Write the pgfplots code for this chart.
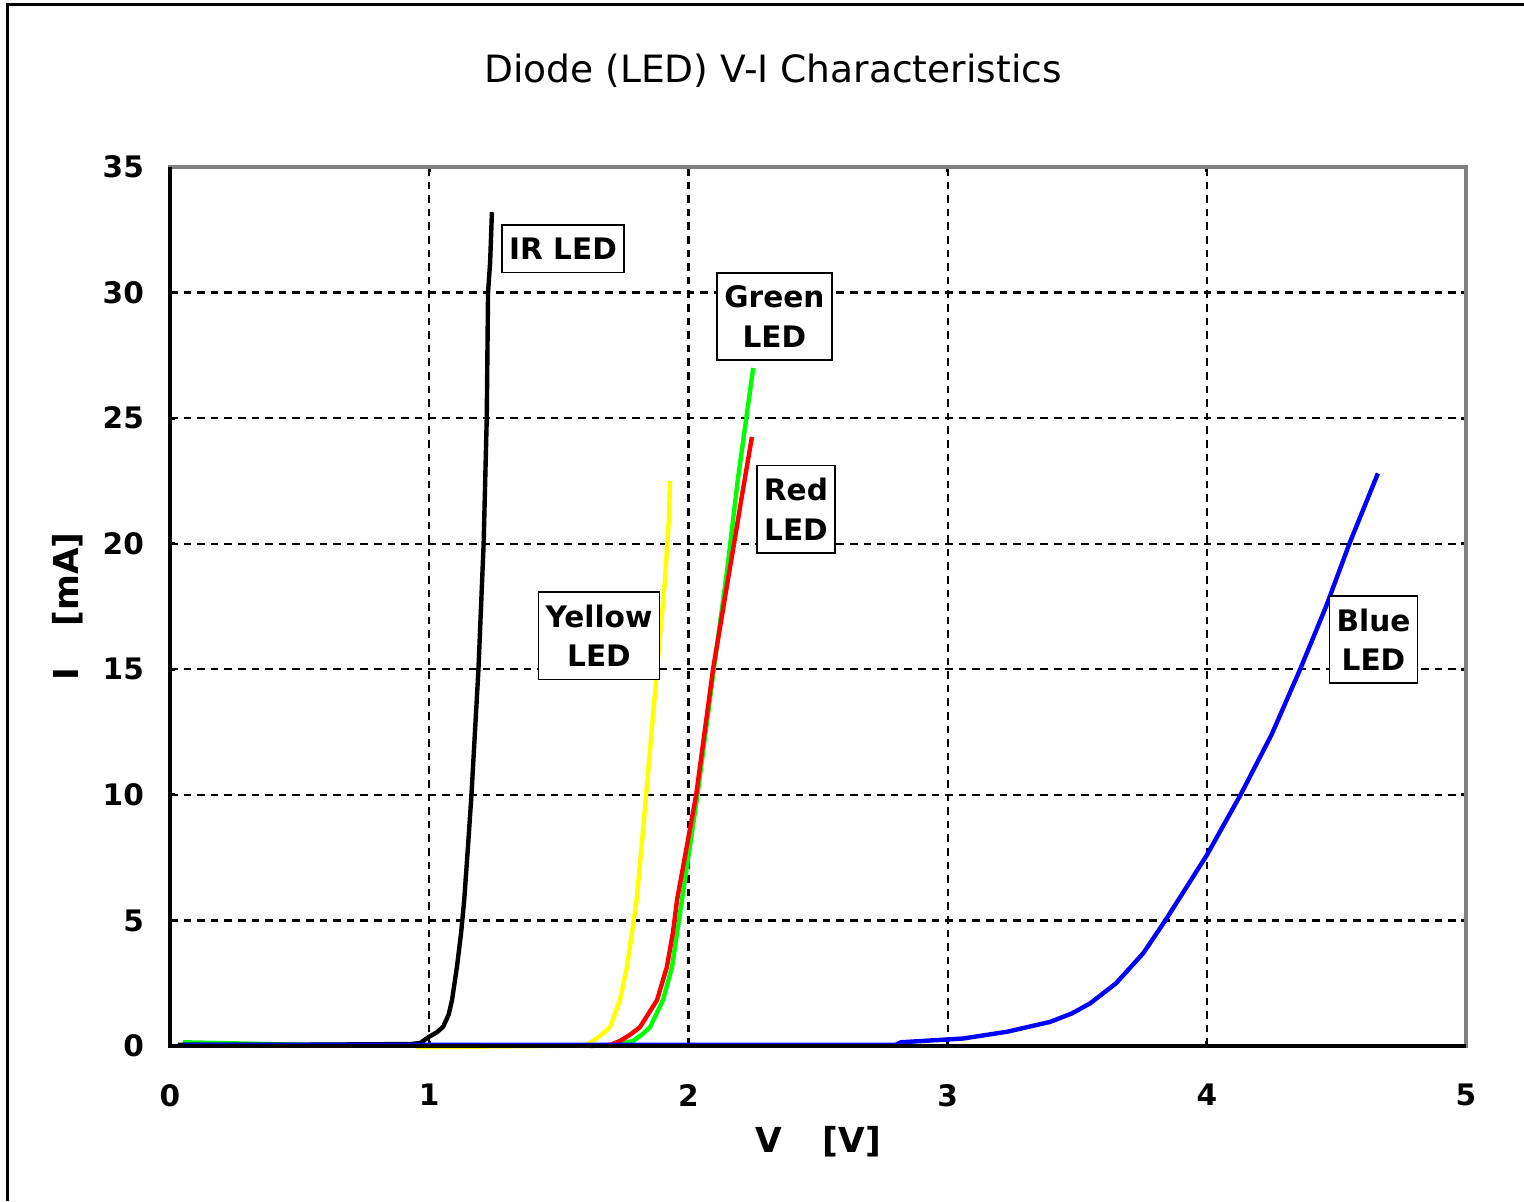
\documentclass[border=0pt]{standalone}
\usepackage{fontspec}
\setmainfont{DejaVu Sans}
\usepackage{pgfplots}
\pgfplotsset{compat=1.18}
\usetikzlibrary{calc}

\definecolor{axgray}{RGB}{128,128,128}
\tikzset{ledlab/.style={draw=black, line width=0.4pt, fill=white, align=center,
  font=\fontsize{7.4}{9.8}\selectfont\bfseries, inner xsep=1.8pt, inner ysep=3.2pt}}

\begin{document}
\begin{tikzpicture}
\begin{axis}[
  name=ax,
  scale only axis,
  width=324pt, height=219.75pt,
  xmin=0, xmax=5, ymin=0, ymax=35,
  xtick={0,1,2,3,4,5}, ytick={0,5,...,35},
  grid=major,
  major grid style={black, line width=0.55pt, dash pattern=on 1.9pt off 1.5pt},
  axis line style={axgray, line width=0.8pt},
  tick align=inside, major tick length=1.2pt,
  tick style={black, line width=0.8pt},
  /pgf/number format/assume math mode=true,
  ticklabel style={font=\fontsize{7.4}{8}\selectfont\bfseries},
  xticklabel style={yshift=-6pt},
  yticklabel style={xshift=-3pt},
  xlabel={V\hspace{1.2em}[V]},
  ylabel={I\hspace{1.2em}[mA]},
  xlabel style={font=\fontsize{8.6}{9}\selectfont\bfseries, at={(axis description cs:0.5,0)}, anchor=center, yshift=-24pt},
  ylabel style={font=\fontsize{8.6}{9}\selectfont\bfseries, at={(axis description cs:0,0.5)}, anchor=center, yshift=25.5pt},
  clip=false,
]
% green LED
\addplot[color={rgb,255:red,0;green,255;blue,0}, line width=1.1pt] coordinates {
 (0.05,0.15) (0.5,0.05) (1.70,0.02) (1.786,0.2) (1.82,0.45) (1.852,0.75) (1.902,1.83)
 (1.937,3.15) (1.956,4.5) (1.975,5.8) (2.035,10) (2.098,15) (2.15,19)
 (2.19,22.5) (2.23,25.5) (2.25,27)};
% red LED
\addplot[color={rgb,255:red,255;green,0;blue,0}, line width=1.1pt] coordinates {
 (1.62,0) (1.70,0.05) (1.736,0.2) (1.775,0.45) (1.813,0.75) (1.879,1.83) (1.917,3.15)
 (1.94,4.5) (1.956,5.8) (2.03,10) (2.095,15) (2.153,18.6) (2.176,20)
 (2.208,22) (2.245,24.25)};
% yellow LED
\addplot[color={rgb,255:red,255;green,255;blue,0}, line width=1.1pt] coordinates {
 (0.95,-0.05) (1.60,0.02) (1.632,0.2) (1.665,0.45) (1.698,0.75) (1.736,1.83)
 (1.763,3.15) (1.782,4.5) (1.80,5.8) (1.82,8) (1.837,10) (1.879,15) (1.91,18.6)
 (1.925,21) (1.929,22.5)};
% IR LED
\addplot[black, line width=1.1pt] coordinates {
 (0.03,0.05) (0.5,0.05) (0.93,0.08) (0.965,0.12) (1.0,0.37) (1.03,0.55) (1.054,0.77)
 (1.075,1.25) (1.088,1.83) (1.107,3.15) (1.123,4.5) (1.135,5.8) (1.15,8) (1.163,10)
 (1.19,15) (1.21,20) (1.222,25) (1.227,30) (1.235,31.2) (1.242,33.2)};
% blue LED
\addplot[color={rgb,255:red,0;green,0;blue,255}, line width=1.1pt] coordinates {
 (0.05,0.05) (2.8,0.05) (2.82,0.15) (3.06,0.3) (3.23,0.57) (3.395,0.96)
 (3.48,1.3) (3.55,1.7) (3.65,2.5) (3.755,3.7) (3.84,5) (4.0,7.6) (4.13,10) (4.25,12.4)
 (4.36,15) (4.46,17.5) (4.55,20) (4.66,22.8)};

\draw[black, line width=0.8pt] (rel axis cs:0,1) -- (rel axis cs:0,0) -- (rel axis cs:1,0);

\node[ledlab] at (axis cs:1.516,31.74) {IR LED};
\node[ledlab] at (axis cs:2.332,29.05) {Green\\LED};
\node[ledlab] at (axis cs:2.415,21.37) {Red\\LED};
\node[ledlab] at (axis cs:1.655,16.33) {Yellow\\LED};
\node[ledlab] at (axis cs:4.643,16.19) {Blue\\LED};
\end{axis}

\pgfresetboundingbox
\useasboundingbox ([shift={(-42.5pt,-38.75pt)}]ax.south west) rectangle ([shift={(14.5pt,41.75pt)}]ax.north east);
\draw[black, line width=0.75pt] ([shift={(-40.5pt,-38.75pt)}]ax.south west) -- ([shift={(-40.5pt,40.5pt)}]ax.north west) -- ([shift={(14.5pt,40.5pt)}]ax.north east);
\node[font=\fontsize{9.4}{10}\selectfont] at ([shift={(150.75pt,24pt)}]ax.north west) {Diode (LED) V-I Characteristics};
\end{tikzpicture}
\end{document}
